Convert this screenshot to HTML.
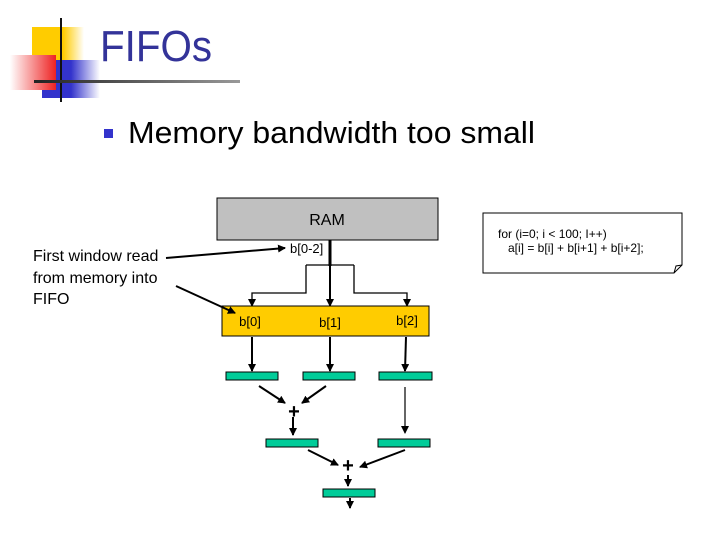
<!DOCTYPE html>
<html><head><style>
html,body{margin:0;padding:0;background:#fff;}
svg{display:block;}
</style></head><body>
<svg width="720" height="540" viewBox="0 0 720 540" xmlns="http://www.w3.org/2000/svg" font-family="Liberation Sans, sans-serif">
<defs>
<linearGradient id="gy" x1="0" x2="1"><stop offset="0" stop-color="#ffcc00"/><stop offset="0.6" stop-color="#ffcc00"/><stop offset="1" stop-color="#fff"/></linearGradient>
<linearGradient id="gb" x1="0" x2="1"><stop offset="0" stop-color="#3333cc"/><stop offset="0.5" stop-color="#3333cc"/><stop offset="1" stop-color="#fff"/></linearGradient>
<linearGradient id="gr" x1="1" x2="0"><stop offset="0" stop-color="#ee2222"/><stop offset="1" stop-color="#fff"/></linearGradient>
<linearGradient id="gl" x1="0" x2="1"><stop offset="0" stop-color="#222"/><stop offset="1" stop-color="#999"/></linearGradient>
<marker id="a" markerWidth="8" markerHeight="8" refX="7" refY="4" orient="auto" markerUnits="userSpaceOnUse"><path d="M0,0 L8,4 L0,8 z" fill="#000"/></marker>
</defs>
<rect x="32" y="27" width="52" height="35" fill="url(#gy)"/>
<rect x="42" y="60" width="58" height="38" fill="url(#gb)"/>
<rect x="10" y="55" width="46" height="35" fill="url(#gr)"/>
<line x1="61" y1="18" x2="61" y2="102" stroke="#111" stroke-width="2"/>
<rect x="34" y="80" width="206" height="3" fill="url(#gl)"/>
<text x="100" y="61" font-size="44" fill="#333399" textLength="112" lengthAdjust="spacingAndGlyphs">FIFOs</text>
<rect x="104" y="129" width="9" height="9" fill="#3333cc"/>
<text x="128" y="143" font-size="31" fill="#000" textLength="407" lengthAdjust="spacingAndGlyphs">Memory bandwidth too small</text>
<rect x="217" y="198" width="221" height="42" fill="#c0c0c0" stroke="#000"/>
<text x="327" y="225" font-size="16" text-anchor="middle">RAM</text>
<line x1="330" y1="240" x2="330" y2="266" stroke="#000" stroke-width="3"/>
<text x="290" y="253" font-size="13">b[0-2]</text>
<path d="M483,213 H682 V265 L674,273 H483 Z" fill="#fff" stroke="#000"/>
<path d="M674,273 L676,266 L682,265" fill="none" stroke="#000"/>
<text x="498" y="238" font-size="12">for (i=0; i &lt; 100; I++)</text>
<text x="508" y="252" font-size="12">a[i] = b[i] + b[i+1] + b[i+2];</text>
<g stroke="#000" stroke-width="1.3" fill="none">
<line x1="306" y1="265" x2="354" y2="265"/>
<polyline points="306,265 306,293 252,293 252,306" marker-end="url(#a)"/>
<polyline points="354,265 354,293 407,293 407,306" marker-end="url(#a)"/>
<line x1="330" y1="265" x2="330" y2="306" stroke-width="2" marker-end="url(#a)"/>
</g>
<rect x="222" y="306" width="207" height="30" fill="#ffcc00" stroke="#000"/>
<text x="250" y="326" font-size="13" text-anchor="middle">b[0]</text>
<text x="330" y="327" font-size="13" text-anchor="middle">b[1]</text>
<text x="407" y="325" font-size="13" text-anchor="middle">b[2]</text>
<text font-size="16" fill="#000"><tspan x="33" y="261">First window read</tspan><tspan x="33" y="283">from memory into</tspan><tspan x="33" y="304">FIFO</tspan></text>
<g stroke="#000" stroke-width="2" fill="none">
<line x1="166" y1="258" x2="285" y2="248" marker-end="url(#a)"/>
<line x1="176" y1="286" x2="235" y2="313" marker-end="url(#a)"/>
<line x1="252" y1="337" x2="252" y2="371" marker-end="url(#a)"/>
<line x1="330" y1="337" x2="330" y2="371" marker-end="url(#a)"/>
<line x1="406" y1="337" x2="405" y2="371" marker-end="url(#a)"/>
<line x1="259" y1="386" x2="285" y2="403" marker-end="url(#a)"/>
<line x1="326" y1="386" x2="302" y2="403" marker-end="url(#a)"/>
<line x1="293" y1="417" x2="293" y2="435" marker-end="url(#a)"/>
<line x1="405" y1="387" x2="405" y2="433" stroke-width="1.2" marker-end="url(#a)"/>
<line x1="308" y1="450" x2="338" y2="465" marker-end="url(#a)"/>
<line x1="405" y1="450" x2="360" y2="467" marker-end="url(#a)"/>
<line x1="348" y1="475" x2="348" y2="486" marker-end="url(#a)"/>
<line x1="350" y1="498" x2="350" y2="508" marker-end="url(#a)"/>
</g>
<g fill="#00cc99" stroke="#000" stroke-width="1">
<rect x="226" y="372" width="52" height="8"/>
<rect x="303" y="372" width="52" height="8"/>
<rect x="379" y="372" width="53" height="8"/>
<rect x="266" y="439" width="52" height="8"/>
<rect x="378" y="439" width="52" height="8"/>
<rect x="323" y="489" width="52" height="8"/>
</g>
<text x="294" y="418" font-size="20" font-weight="bold" text-anchor="middle">+</text>
<text x="348" y="472" font-size="20" font-weight="bold" text-anchor="middle">+</text>
</svg>
</body></html>
